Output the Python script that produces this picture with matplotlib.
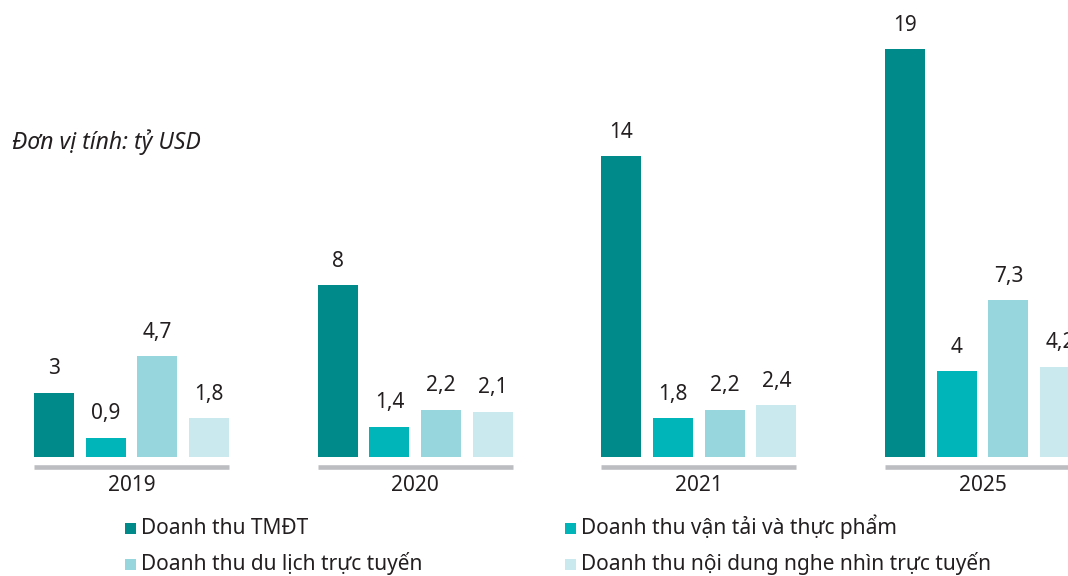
import matplotlib
matplotlib.use('Agg')
import matplotlib.pyplot as plt
from matplotlib.patches import Rectangle

plt.rcParams['font.family'] = ['Noto Sans', 'DejaVu Sans']

years = ['2019', '2020', '2021', '2025']
series_names = ['Doanh thu TMĐT', 'Doanh thu vận tải và thực phẩm',
                'Doanh thu du lịch trực tuyến', 'Doanh thu nội dung nghe nhìn trực tuyến']
tmdt = [3, 8, 14, 19]
van_tai = [0.9, 1.4, 1.8, 4]
du_lich = [4.7, 2.2, 2.2, 7.3]
noi_dung = [1.8, 2.1, 2.4, 4.2]
value_labels = [['3', '8', '14', '19'],
                ['0,9', '1,4', '1,8', '4'],
                ['4,7', '2,2', '2,2', '7,3'],
                ['1,8', '2,1', '2,4', '4,2']]

colors = ['#008B8A', '#00B5BA', '#97D6DC', '#C9E9EF']
txt_color = '#231F20'
fs = 15
W, H = 1068, 576

fig = plt.figure(figsize=(10.68, 5.76), dpi=100)
ax = fig.add_axes([0, 0, 1, 1])
ax.axis('off')

px_x = 283.7   # pixels per group unit
px_y = 21.47   # pixels per value unit
ax.set_xlim(-131.5 / px_x, (W - 131.5) / px_x)
ax.set_ylim(-119 / px_y, 457 / px_y)

step = 51.67 / px_x
width = 40 / px_x
data = [tmdt, van_tai, du_lich, noi_dung]
for i, vals in enumerate(data):
    xs = [g + (i - 1.5) * step for g in range(len(years))]
    ax.bar(xs, vals, width=width, color=colors[i], linewidth=0)
    for x, v, lab in zip(xs, vals, value_labels[i]):
        ax.annotate(lab, (x, v), xytext=(0, 13.3), textcoords='offset points',
                    ha='center', va='baseline', fontsize=fs, color=txt_color)

for g, yr in enumerate(years):
    ax.hlines(-9.5 / px_y, g - 97.5 / px_x, g + 97.5 / px_x, color='#BCBDC0',
              linewidth=3.3, capstyle='butt')
    ax.text(g, -34 / px_y, yr, ha='center', va='baseline', fontsize=fs, color=txt_color)

fig.text(12 / W, 1 - 149 / H, 'Đơn vị tính: tỷ USD', fontsize=16.5, style='italic',
         color=txt_color, va='baseline', ha='left')

# legend, drawn by hand: two columns, two rows
leg_x = [125, 565]
leg_y = [534, 570]   # text baselines
order = [0, 2, 1, 3]
for k, s in enumerate(order):
    col, row = k // 2, k % 2
    x0, yb = leg_x[col], leg_y[row]
    fig.patches.append(Rectangle((x0 / W, 1 - (yb - 0.5) / H), 11 / W, 11 / H,
                                 transform=fig.transFigure, facecolor=colors[s],
                                 edgecolor='none'))
    fig.text((x0 + 16) / W, 1 - yb / H, series_names[s], fontsize=fs,
             color=txt_color, va='baseline', ha='left')

fig.savefig('out.png', dpi=100)
